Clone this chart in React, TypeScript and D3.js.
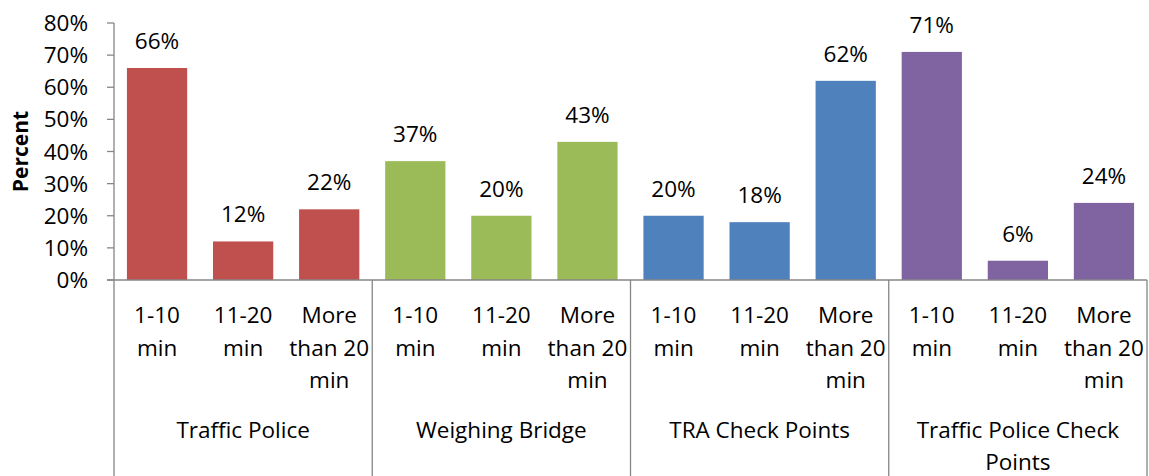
import React from "react";
import * as d3 from "d3";

const groups = ["Traffic Police", "Weighing Bridge", "TRA Check Points", "Traffic Police Check Points"];
const groupLabelLines = [["Traffic Police"], ["Weighing Bridge"], ["TRA Check Points"], ["Traffic Police Check", "Points"]];
const durations = ["1-10 min", "11-20 min", "More than 20 min"];
const durationLines = [["1-10", "min"], ["11-20", "min"], ["More", "than 20", "min"]];
const trafficPolice = [0.66, 0.12, 0.22];
const weighingBridge = [0.37, 0.2, 0.43];
const traCheckPoints = [0.2, 0.18, 0.62];
const trafficPoliceCheckPoints = [0.71, 0.06, 0.24];
const groupColors = ["#C0504D", "#9BBB59", "#4F81BD", "#8064A2"];
const yTicks = [0, 0.1, 0.2, 0.3, 0.4, 0.5, 0.6, 0.7, 0.8];

const seriesValues = [trafficPolice, weighingBridge, traCheckPoints, trafficPoliceCheckPoints];

export default function App() {
  const W = 1149, H = 476;
  const left = 114, right = 1147, top = 23, bottom = 280;
  const bars = groups.flatMap((g, gi) =>
    durations.map((d, di) => ({ key: `${gi}-${di}`, gi, di, value: seriesValues[gi][di] }))
  );
  const x = d3.scaleBand<string>().domain(bars.map(b => b.key)).range([left, right]).paddingInner(0.3).paddingOuter(0.15);
  const y = d3.scaleLinear().domain([0, 0.8]).range([bottom, top]);
  const fmt = d3.format(".0%");
  const font = "'Open Sans', sans-serif";
  const fs = 22.5;
  const step = x.step();
  const groupEdges = groups.map((_, gi) => left + gi * 3 * step).concat([right]);
  const axisColor = "#868686";
  return (
    <svg width={W} height={H} style={{ position: "absolute", left: 0, top: 0, fontFamily: font }}>
      {bars.map(b => (
        <g key={b.key}>
          <rect x={x(b.key)} y={y(b.value)} width={x.bandwidth()} height={bottom - y(b.value)} fill={groupColors[b.gi]} />
          <text x={(x(b.key) as number) + x.bandwidth() / 2} y={y(b.value) - 19} textAnchor="middle" fontSize={fs} fill="#000">
            {fmt(b.value)}
          </text>
          {durationLines[b.di].map((line, li) => (
            <text key={li} x={(x(b.key) as number) + x.bandwidth() / 2} y={323 + li * 32.5} textAnchor="middle" fontSize={fs} fill="#000">
              {line}
            </text>
          ))}
        </g>
      ))}
      {/* y axis */}
      <line x1={left} x2={left} y1={top} y2={H} stroke={axisColor} strokeWidth={1.3} />
      {yTicks.map(t => (
        <g key={t}>
          <line x1={left - 7} x2={left} y1={y(t)} y2={y(t)} stroke={axisColor} strokeWidth={1.3} />
          <text x={88} y={y(t)} dy="0.36em" textAnchor="end" fontSize={fs} fill="#000">{fmt(t)}</text>
        </g>
      ))}
      {/* x axis */}
      <line x1={left - 7} x2={right} y1={bottom} y2={bottom} stroke={axisColor} strokeWidth={1.3} />
      {groupEdges.slice(1).map((e, i) => (
        <line key={i} x1={e} x2={e} y1={bottom} y2={H} stroke={axisColor} strokeWidth={1.3} />
      ))}
      {groupLabelLines.map((lines, gi) => (
        lines.map((line, li) => (
          <text key={`${gi}-${li}`} x={(groupEdges[gi] + groupEdges[gi + 1]) / 2} y={438 + li * 32} textAnchor="middle" fontSize={fs} fill="#000">
            {line}
          </text>
        ))
      ))}
      <text transform={`translate(28, ${(top + bottom) / 2}) rotate(-90)`} textAnchor="middle" fontSize={21} fontWeight="bold" fill="#000">
        Percent
      </text>
    </svg>
  );
}
